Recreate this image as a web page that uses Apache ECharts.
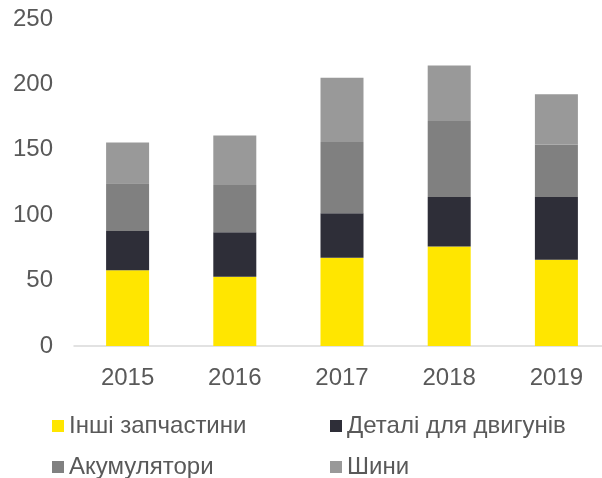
<!DOCTYPE html>
<html>
<head>
<meta charset="utf-8">
<script src="https://cdn.jsdelivr.net/npm/echarts@6/dist/echarts.min.js"></script>
<style>
html,body{margin:0;padding:0;background:#fff;overflow:hidden;}
#bar{width:612px;height:478px;}
</style>
</head>
<body>
<div id="bar"></div>
<script>
var years = ['2015', '2016', '2017', '2018', '2019'];
var otherParts = [58, 53, 67.5, 76, 66];
var engineParts = [30, 34, 34, 38, 48];
var batteries = [36.5, 36, 54.5, 58, 40];
var tires = [31, 38, 49, 42.5, 38.5];
var yTicks = [0, 50, 100, 150, 200, 250];

var names = ['Інші запчастини', 'Деталі для двигунів', 'Акумулятори', 'Шини'];
var colors = ['#FFE600', '#2E2E38', '#808080', '#999999'];
var values = [otherParts, engineParts, batteries, tires];

var font = 'Liberation Sans, Arial, sans-serif';

var series = [];
for (var i = 0; i < names.length; i++) {
	series.push({
		name: names[i],
		type: 'bar',
		stack: 'total',
		barWidth: 43,
		itemStyle: { color: colors[i] },
		data: values[i]
	});
}

// legend: 2 rows x 2 columns
var legendPos = [[47, 409], [325, 409], [47, 450], [325, 450]];
var legends = [];
for (var j = 0; j < names.length; j++) {
	legends.push({
		data: [names[j]],
		left: legendPos[j][0],
		top: legendPos[j][1],
		icon: 'rect',
		itemWidth: 12,
		itemHeight: 12,
		itemGap: 0,
		textStyle: { color: '#595959', fontSize: 24, fontFamily: font, padding: [0, 0, 0, 0] }
	});
}

var chartOption = echarts.init(document.getElementById('bar'));
chartOption.setOption({
	animation: false,
	legend: legends,
	grid: { left: 74, top: 19, width: 536, height: 327, containLabel: false },
	xAxis: {
		type: 'category',
		data: years,
		axisLine: { lineStyle: { color: '#D9D9D9', width: 1.5 } },
		axisTick: { show: false },
		axisLabel: { color: '#595959', fontSize: 24, fontFamily: font, margin: 20 }
	},
	yAxis: {
		type: 'value',
		min: yTicks[0],
		max: yTicks[yTicks.length - 1],
		interval: 50,
		splitLine: { show: false },
		axisLine: { show: false },
		axisTick: { show: false },
		axisLabel: { color: '#595959', fontSize: 24, fontFamily: font, margin: 21 }
	},
	series: series
});
</script>
</body>
</html>
